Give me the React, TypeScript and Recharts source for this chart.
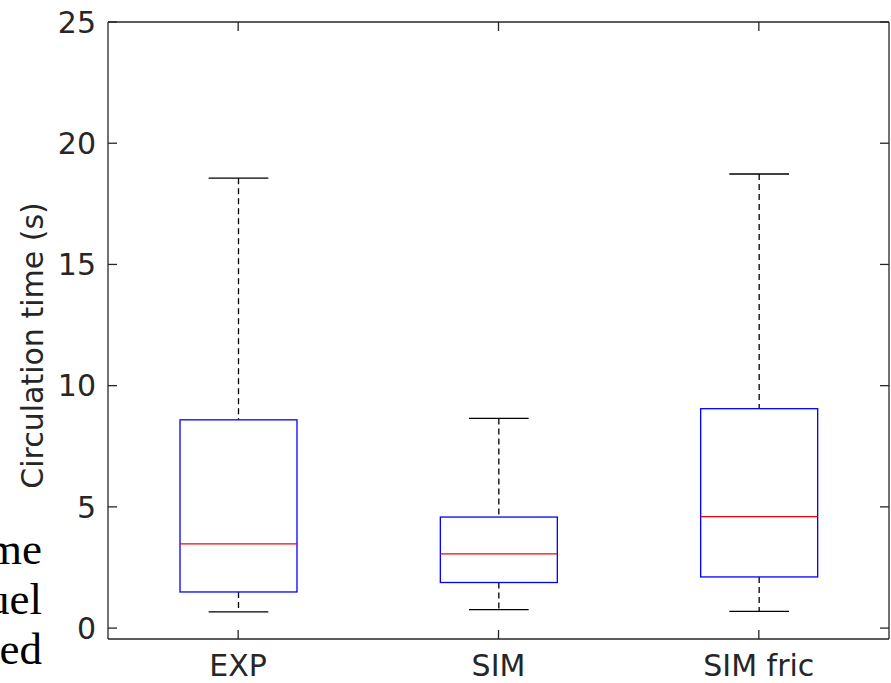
import { ComposedChart, Bar, XAxis, YAxis } from 'recharts';

const groups = ['EXP', 'SIM', 'SIM fric'];
const lowerWhisker = [0.67, 0.76, 0.69];
const q1 = [1.49, 1.88, 2.11];
const medians = [3.47, 3.06, 4.6];
const q3 = [8.59, 4.58, 9.05];
const upperWhisker = [18.56, 8.65, 18.73];
const yTicks = [0, 5, 10, 15, 20, 25];
const sideText = ['me', 'uel', 'ed'];

const data = groups.map((g, i) => ({
  name: g,
  range: [lowerWhisker[i], upperWhisker[i]],
  lo: lowerWhisker[i],
  q1: q1[i],
  med: medians[i],
  q3: q3[i],
  hi: upperWhisker[i],
}));

const axisColor = '#262626';
const font = 'DejaVu Sans, sans-serif';

// draws one box from the [min, max] bar the library positions
const BoxShape = (props: any) => {
  const { x, y, width, height, payload } = props;
  const { lo, hi } = payload;
  const py = (v: number) => y + (height * (hi - v)) / (hi - lo);
  const cx = x + width / 2;
  const capW = width * 0.51;
  return (
    <g>
      <line x1={cx} x2={cx} y1={py(hi)} y2={py(payload.q3)} stroke="#000" strokeWidth={1.3} strokeDasharray="6 4" />
      <line x1={cx} x2={cx} y1={py(payload.q1)} y2={py(lo)} stroke="#000" strokeWidth={1.3} strokeDasharray="6 4" />
      <line x1={cx - capW / 2} x2={cx + capW / 2} y1={py(hi)} y2={py(hi)} stroke="#000" strokeWidth={1.3} />
      <line x1={cx - capW / 2} x2={cx + capW / 2} y1={py(lo)} y2={py(lo)} stroke="#000" strokeWidth={1.3} />
      <rect x={x} y={py(payload.q3)} width={width} height={py(payload.q1) - py(payload.q3)} fill="none" stroke="#0000ff" strokeWidth={1.3} />
      <line x1={x} x2={x + width} y1={py(payload.med)} y2={py(payload.med)} stroke="#ff0000" strokeWidth={1.3} />
    </g>
  );
};

const YLabel = (props: any) => {
  const { viewBox } = props;
  const cx = viewBox.x + 43;
  const cy = viewBox.y + viewBox.height / 2 + 15;
  return (
    <text x={cx} y={cy} transform={`rotate(-90, ${cx}, ${cy})`} textAnchor="middle"
      fontFamily={font} fontSize={30} fill={axisColor}>
      Circulation time (s)
    </text>
  );
};

const NoLabel = () => <g />;

export default function App() {
  return (
    <div style={{ position: 'absolute', left: 0, top: 0, width: 891, height: 683, background: '#fff' }}>
      <svg width={891} height={683} style={{ position: 'absolute', left: 0, top: 0 }}>
        {sideText.map((t, i) => (
          <text key={t} x={42} y={564 + i * 50} textAnchor="end" fontFamily="Liberation Serif, serif" fontSize={45} fill="#000">
            {t}
          </text>
        ))}
      </svg>
      <div style={{ position: 'absolute', left: 0, top: 0 }}>
        <ComposedChart width={891} height={683} data={data} margin={{ top: 21, right: 1, bottom: 0, left: 0 }}>
          <XAxis dataKey="name" xAxisId="bottom" height={44} stroke={axisColor} strokeWidth={1.3}
            tickSize={-9} tickMargin={25} tick={{ fontFamily: font, fontSize: 30, fill: axisColor }} />
          <XAxis dataKey="name" xAxisId="top" orientation="top" height={1} stroke={axisColor} strokeWidth={1.3}
            tickSize={-9} tick={NoLabel} />
          <YAxis yAxisId="left" domain={[-0.45, 25]} ticks={yTicks} width={108} stroke={axisColor} strokeWidth={1.3}
            tickSize={-9} tickMargin={21} tick={{ fontFamily: font, fontSize: 30, fill: axisColor }}
            label={<YLabel />} allowDataOverflow />
          <YAxis yAxisId="right" orientation="right" domain={[-0.45, 25]} ticks={yTicks} width={1} stroke={axisColor}
            strokeWidth={1.3} tickSize={-9} tick={NoLabel} allowDataOverflow />
          <Bar dataKey="range" xAxisId="bottom" yAxisId="left" barSize={117} shape={<BoxShape />} isAnimationActive={false} />
        </ComposedChart>
      </div>
    </div>
  );
}
